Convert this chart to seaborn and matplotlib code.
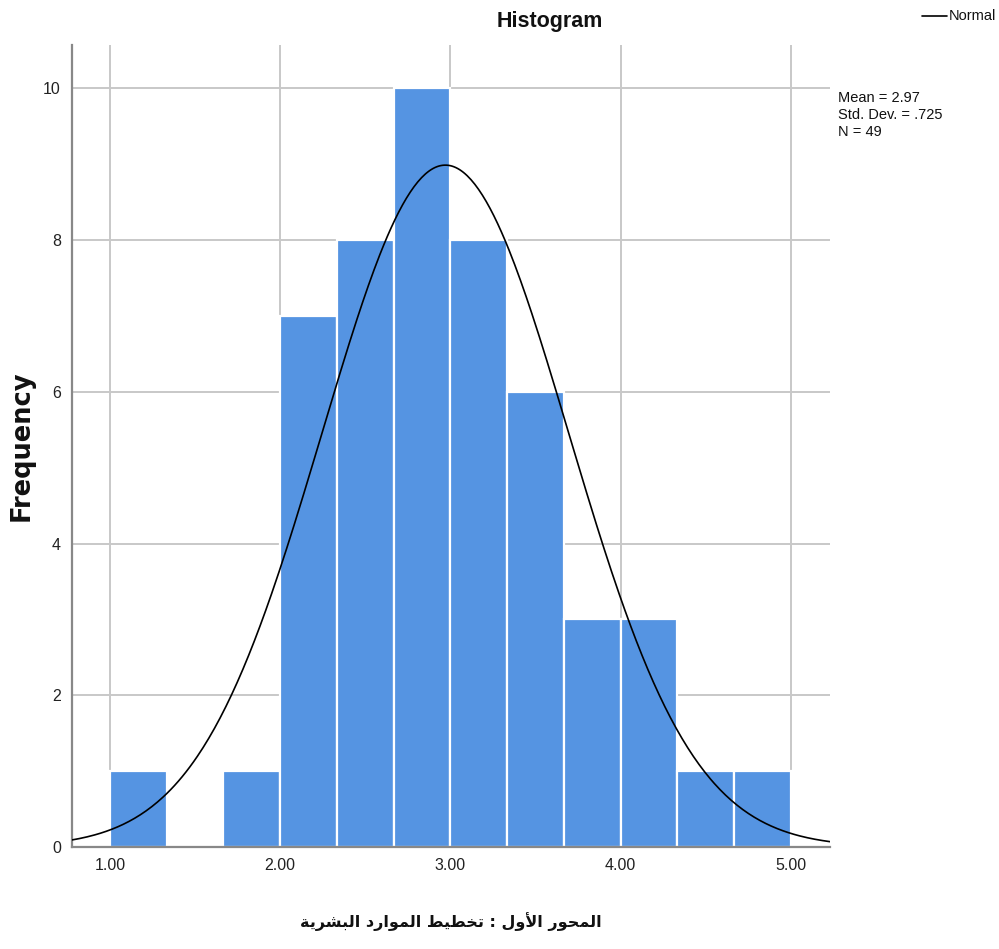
import numpy as np
import pandas as pd
import matplotlib
matplotlib.use("Agg")
import matplotlib.pyplot as plt
import seaborn as sns

# ---------------- data ----------------
bin_edges = [1.0, 1.3333, 1.6667, 2.0, 2.3333, 2.6667, 3.0, 3.3333, 3.6667, 4.0, 4.3333, 4.6667, 5.0]
bin_counts = [1, 0, 1, 7, 8, 10, 8, 6, 3, 3, 1, 1]
x_ticks = [1.0, 2.0, 3.0, 4.0, 5.0]
x_tick_labels = ["1.00", "2.00", "3.00", "4.00", "5.00"]
y_ticks = [0, 2, 4, 6, 8, 10]
mean_val = 2.97
sd_val = 0.725
n_val = 49
title_text = "Histogram"
y_label = "Frequency"
x_label = "المحور الأول : تخطيط الموارد البشرية"
stats_text = "Mean = 2.97\nStd. Dev. = .725\nN = 49"
legend_label = "Normal"

# ---------------- minimal Arabic shaping (presentation forms) ----------------
FORMS = {  # isolated, final, initial, medial
    "\u0627": ("\uFE8D", "\uFE8E", None, None),
    "\u0623": ("\uFE83", "\uFE84", None, None),
    "\u0628": ("\uFE8F", "\uFE90", "\uFE91", "\uFE92"),
    "\u0629": ("\uFE93", "\uFE94", None, None),
    "\u062A": ("\uFE95", "\uFE96", "\uFE97", "\uFE98"),
    "\u062D": ("\uFEA1", "\uFEA2", "\uFEA3", "\uFEA4"),
    "\u062E": ("\uFEA5", "\uFEA6", "\uFEA7", "\uFEA8"),
    "\u062F": ("\uFEA9", "\uFEAA", None, None),
    "\u0631": ("\uFEAD", "\uFEAE", None, None),
    "\u0632": ("\uFEAF", "\uFEB0", None, None),
    "\u0634": ("\uFEB5", "\uFEB6", "\uFEB7", "\uFEB8"),
    "\u0637": ("\uFEC1", "\uFEC2", "\uFEC3", "\uFEC4"),
    "\u0644": ("\uFEDD", "\uFEDE", "\uFEDF", "\uFEE0"),
    "\u0645": ("\uFEE1", "\uFEE2", "\uFEE3", "\uFEE4"),
    "\u0648": ("\uFEED", "\uFEEE", None, None),
    "\u064A": ("\uFEF1", "\uFEF2", "\uFEF3", "\uFEF4"),
    "LA": ("\uFEFB", "\uFEFC", None, None),
    "LAH": ("\uFEF7", "\uFEF8", None, None),
}


def shape_arabic(text):
    units = []
    i = 0
    while i < len(text):
        c = text[i]
        if c == "\u0644" and i + 1 < len(text) and text[i + 1] in ("\u0627", "\u0623"):
            units.append("LA" if text[i + 1] == "\u0627" else "LAH")
            i += 2
        else:
            units.append(c)
            i += 1
    out = []
    for k, u in enumerate(units):
        if u not in FORMS:
            out.append(u)
            continue
        f = FORMS[u]
        prev = units[k - 1] if k > 0 else None
        nxt = units[k + 1] if k + 1 < len(units) else None
        join_prev = prev in FORMS and FORMS[prev][2] is not None
        join_next = f[2] is not None and nxt in FORMS
        if join_prev and join_next:
            out.append(f[3])
        elif join_prev:
            out.append(f[1])
        elif join_next:
            out.append(f[2])
        else:
            out.append(f[0])
    return "".join(out)[::-1]


# ---------------- style ----------------
sns.set_theme(style="white")
plt.rcParams["font.family"] = ["Liberation Sans Narrow", "Liberation Sans", "DejaVu Sans"]

fig = plt.figure(figsize=(9.99, 9.49), dpi=100)
ax = fig.add_axes([0.072, 0.1075, 0.759, 0.845])

centers = [(bin_edges[i] + bin_edges[i + 1]) / 2 for i in range(len(bin_counts))]
df = pd.DataFrame({"value": centers, "count": bin_counts})

sns.histplot(data=df, x="value", weights="count", bins=bin_edges, ax=ax,
             color="#5594E2", alpha=1.0, edgecolor="white", linewidth=1.6, zorder=2)

# normal curve
bw = (bin_edges[-1] - bin_edges[0]) / len(bin_counts)
xs = np.linspace(0.777, 5.23, 400)
ys = n_val * bw / (sd_val * np.sqrt(2 * np.pi)) * np.exp(-0.5 * ((xs - mean_val) / sd_val) ** 2)
sns.lineplot(x=xs, y=ys, ax=ax, color="black", linewidth=1.2, zorder=3)

ax.set_xlim(0.777, 5.23)
ax.set_ylim(0, 10.57)
ax.set_xticks(x_ticks)
ax.set_xticklabels(x_tick_labels, fontsize=11.5)
ax.set_yticks(y_ticks)
ax.set_yticklabels([str(v) for v in y_ticks], fontsize=11.5)
ax.tick_params(axis="both", length=0, pad=8, colors="#222222")

ax.grid(True, color="#C8C8C8", linewidth=1.4, zorder=0)
ax.set_axisbelow(True)
for s in ["top", "right"]:
    ax.spines[s].set_visible(False)
for s in ["left", "bottom"]:
    ax.spines[s].set_color("#888888")
    ax.spines[s].set_linewidth(1.6)

ax.set_ylabel("")
fig.text(0.022, 0.53, y_label, fontsize=18.5, fontweight="bold", family=["DejaVu Sans"],
         rotation=90, ha="center", va="center", color="#111111")
ax.set_xlabel(shape_arabic(x_label), fontsize=11.5, fontweight="bold", family=["DejaVu Sans"],
              labelpad=28, color="#111111")
fig.text(0.55, 0.977, title_text, fontsize=15.5, fontweight="bold", ha="center", va="center",
         color="#111111")

fig.text(0.839, 0.904, stats_text, fontsize=10.5, ha="left", va="top", linespacing=1.28,
         color="#111111")

# legend
fig.add_artist(plt.Line2D([0.923, 0.948], [0.983, 0.983], color="black", linewidth=1.2))
fig.text(0.950, 0.983, legend_label, fontsize=10.5, ha="left", va="center", color="#111111")

fig.savefig("out.png", dpi=100)
